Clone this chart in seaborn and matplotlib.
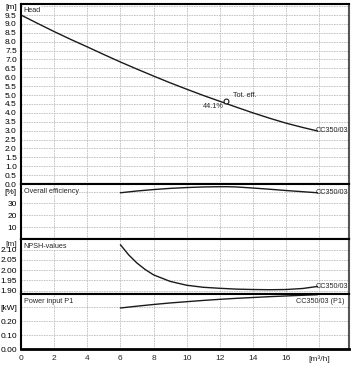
import numpy as np
import pandas as pd
import matplotlib
matplotlib.use('Agg')
import matplotlib.pyplot as plt
import matplotlib.transforms as mtransforms
import seaborn as sns

# curva de altura (Head)
head_q = [0, 1, 2, 3, 4, 5, 6, 7, 8, 9, 10, 11, 12, 13, 14, 15, 16, 17, 17.9]
head_h = [9.5, 9.03, 8.57, 8.13, 7.71, 7.28, 6.86, 6.46, 6.07, 5.69, 5.33, 4.98, 4.65, 4.32, 4.0, 3.7, 3.42, 3.18, 2.98]

# rendimiento total
eff_q = [6, 7, 8, 9, 10, 11, 12, 12.5, 13, 14, 15, 16, 17, 17.9]
eff_v = [39.0, 40.5, 41.7, 42.7, 43.4, 43.9, 44.1, 44.1, 43.9, 43.0, 42.0, 40.9, 39.9, 39.0]

# NPSH
npsh_q = [6, 6.5, 7, 7.5, 8, 9, 10, 11, 12, 13, 14, 15, 16, 17, 17.9]
npsh_v = [2.125, 2.075, 2.035, 2.003, 1.977, 1.945, 1.926, 1.916, 1.911, 1.907, 1.905, 1.904, 1.905, 1.91, 1.92]

# potencia P1
pow_q = [6, 7, 8, 9, 10, 11, 12, 13, 14, 15, 16, 17, 17.9]
pow_v = [0.293, 0.306, 0.318, 0.329, 0.338, 0.347, 0.355, 0.362, 0.368, 0.374, 0.379, 0.384, 0.388]

punto_q, punto_h, punto_eff = 12.4, 4.68, '44.1%'
etiqueta = 'CC350/03'

sns.set_style('white')
plt.rcParams['font.family'] = ['Liberation Sans', 'DejaVu Sans']
FS = 6      # etiquetas de ejes
FT = 5.2    # textos dentro del grafico
GRID = dict(color='#bdbdbd', linestyle=(0, (2, 1)), linewidth=0.6)
LINEA = '#1a1a1a'

fig = plt.figure(figsize=(3.63, 3.69), dpi=100)
izq, ancho = 21 / 363, 328 / 363
pos = [(184, 180), (239, 55), (294, 55), (349, 55)]
axes = [fig.add_axes([izq, 1 - b / 369, ancho, h / 369]) for b, h in pos]
ax_h, ax_e, ax_n, ax_p = axes

for ax in axes:
    ax.set_xlim(0, 19.8)
    ax.set_xticks(np.arange(0, 19, 2))
    ax.grid(True, **GRID)
    ax.set_axisbelow(True)
    for s in ['left', 'top', 'bottom']:
        ax.spines[s].set_color('black')
        ax.spines[s].set_linewidth(1.5)
    ax.spines['right'].set_color('#555555')
    ax.spines['right'].set_linewidth(1.5)
    ax.tick_params(axis='y', direction='out', length=2.5, width=0.8, labelsize=FS, pad=0.5, colors='black')
    ax.tick_params(axis='x', length=0, labelbottom=False)
    ax.set_xlabel('')
    ax.set_ylabel('')

caja = dict(facecolor='white', edgecolor='none', pad=0.3)

# Head
sns.lineplot(x=head_q, y=head_h, ax=ax_h, color=LINEA, linewidth=1.0)
ax_h.set_ylim(0, 10.12)
yt = np.arange(0, 10.01, 0.5)
ax_h.set_yticks(yt)
ax_h.set_yticklabels([f'{v:.1f}' for v in yt[:-1]] + ['[m]'])
ax_h.plot([punto_q], [punto_h], marker='o', markersize=3.5, markerfacecolor='white',
          markeredgecolor=LINEA, markeredgewidth=0.8)
ax_h.text(punto_q + 0.4, punto_h + 0.12, 'Tot. eff.', fontsize=FT, va='bottom', ha='left')
ax_h.text(punto_q - 0.15, punto_h - 0.1, punto_eff, fontsize=FT, va='top', ha='right')
ax_h.text(head_q[-1] - 0.1, head_h[-1], etiqueta, fontsize=FT, va='center', ha='left')
ax_h.text(0.008, 0.985, 'Head', transform=ax_h.transAxes, fontsize=FT, va='top', ha='left', bbox=caja)

# Overall efficiency
sns.lineplot(x=eff_q, y=eff_v, ax=ax_e, color=LINEA, linewidth=1.0)
ax_e.set_ylim(0, 46.4)
ax_e.set_yticks([10, 20, 30, 40])
ax_e.set_yticklabels(['10', '20', '30', '[%]'])
ax_e.text(eff_q[-1] - 0.1, eff_v[-1], etiqueta, fontsize=FT, va='center', ha='left')
ax_e.text(0.008, 0.93, 'Overall efficiency', transform=ax_e.transAxes, fontsize=FT, va='top', ha='left', bbox=caja)

# NPSH
sns.lineplot(x=npsh_q, y=npsh_v, ax=ax_n, color=LINEA, linewidth=1.0)
ax_n.set_ylim(1.883, 2.153)
ax_n.set_yticks([1.90, 1.95, 2.00, 2.05, 2.10])
ax_n.set_yticklabels(['1.90', '1.95', '2.00', '2.05', '2.10'])
trans = mtransforms.blended_transform_factory(ax_n.transAxes, ax_n.transData)
ax_n.text(-0.012, 2.127, '[m]', transform=trans, fontsize=FS, va='center', ha='right')
ax_n.text(npsh_q[-1] - 0.1, npsh_v[-1], etiqueta, fontsize=FT, va='center', ha='left')
ax_n.text(0.008, 0.93, 'NPSH-values', transform=ax_n.transAxes, fontsize=FT, va='top', ha='left', bbox=caja)

# Power input P1
sns.lineplot(x=pow_q, y=pow_v, ax=ax_p, color=LINEA, linewidth=1.0)
ax_p.set_ylim(0, 0.393)
ax_p.set_yticks([0, 0.1, 0.2, 0.3])
ax_p.set_yticklabels(['0.00', '0.10', '0.20', '[kW]'])
ax_p.text(0.985, 0.86, etiqueta + ' (P1)', transform=ax_p.transAxes, fontsize=FT, va='center', ha='right')
ax_p.text(0.008, 0.93, 'Power input P1', transform=ax_p.transAxes, fontsize=FT, va='top', ha='left', bbox=caja)
ax_p.spines['bottom'].set_linewidth(2)
ax_p.set_xticks(np.arange(0, 19, 2))
ax_p.set_xticklabels([str(v) for v in range(0, 17, 2)] + ['[m³/h]'])
ax_p.set_xticks(np.arange(0, 19.8, 0.5), minor=True)
ax_p.tick_params(axis='x', which='major', direction='out', length=3, width=1.0,
                 labelbottom=True, labelsize=FS, pad=1.5)
ax_p.tick_params(axis='x', which='minor', direction='out', length=2.5, width=1.0)

fig.savefig('out.png', dpi=100)
